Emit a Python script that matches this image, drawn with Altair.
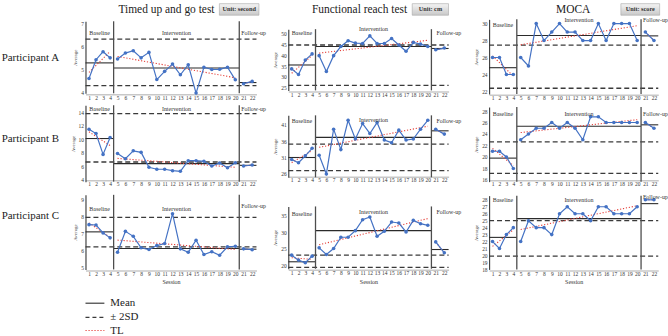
import altair as alt
import pandas as pd

FONT = "Liberation Serif"
BLUE = "#4472c4"
RED = "#e5403a"
INK = "#2b2b2b"

sessions = list(range(1, 23))
phase_names = ["Baseline", "Intervention", "Follow-up"]
phase_edges = [0.5, 4.5, 20.5, 22.5]

tests = ["Timed up and go test", "Functional reach test", "MOCA"]
units = ["Unit: second", "Unit: cm", "Unit: score"]
participants = ["Participant A", "Participant B", "Participant C"]

# Timed up and go test (seconds), sessions 1-22
tug_a = [4.6, 5.42, 5.77, 5.5, 5.45, 5.71, 5.81, 5.5, 5.74, 4.55, 4.91, 5.23, 4.76, 5.2, 3.96, 5.09, 4.99, 5.0, 5.09, 4.54, 4.37, 4.47]
tug_b = [11.47, 10.83, 7.76, 10.25, 7.9, 7.12, 8.29, 8.06, 5.86, 5.57, 5.57, 5.36, 5.27, 6.83, 6.83, 6.74, 6.05, 6.49, 5.8, 6.53, 6.05, 6.2]
tug_c = [7.51, 7.49, 7.03, 6.74, 5.9, 7.12, 6.83, 6.16, 6.06, 6.29, 6.41, 8.15, 6.1, 5.9, 6.6, 5.77, 5.93, 5.73, 6.22, 6.25, 6.1, 6.05]

# Functional reach test (cm)
frt_a = [33.7, 31.1, 37.8, 40.6, 39.8, 32.5, 39.8, 44.0, 46.7, 45.6, 45.4, 48.9, 45.4, 45.4, 47.7, 44.7, 41.8, 45.9, 45.1, 44.0, 42.5, 43.3]
frt_b = [30.4, 29.4, 31.5, 33.8, 31.7, 26.0, 39.6, 33.4, 42.3, 36.6, 41.3, 38.3, 41.6, 36.3, 35.5, 39.3, 36.3, 36.6, 39.6, 42.3, 39.6, 38.1]
frt_c = [23.1, 21.6, 20.8, 22.8, 25.3, 23.3, 25.1, 28.5, 28.5, 30.5, 33.8, 34.6, 28.8, 30.3, 33.1, 32.8, 30.1, 33.6, 32.6, 32.1, 27.1, 23.8]

# MOCA (score)
moca_a = [26, 26, 24, 24, 26, 25, 30, 28, 29, 30, 29, 29, 28, 28, 30, 28, 30, 30, 30, 28, 29, 28]
moca_b = [21, 21, 20, 18, 23, 24, 25, 25, 26, 25, 26, 25, 23, 27, 27, 26, 26, 26, 26, 26, 26, 25]
moca_c = [22, 21, 23, 24, 22, 25, 24, 24, 23, 26, 27, 26, 26, 25, 27, 27, 26, 26, 26, 27, 28, 28]

# phase means: baseline, intervention, follow-up
tug_a_mean = [5.28, 5.06, 4.42]
tug_b_mean = [10.1, 6.4, 6.15]
tug_c_mean = [7.09, 6.12, 6.08]
frt_a_mean = [35.5, 44.0, 43.1]
frt_b_mean = [31.0, 37.1, 39.1]
frt_c_mean = [21.1, 30.5, 24.8]
moca_a_mean = [24.8, 28.6, 28.55]
moca_b_mean = [19.8, 25.35, 25.6]
moca_c_mean = [22.6, 25.3, 27.45]

# baseline mean +/- 2SD: upper, lower
tug_a_sd = [6.32, 4.29]
tug_b_sd = [13.77, 6.64]
tug_c_sd = [7.93, 6.22]
frt_a_sd = [44.7, 26.1]
frt_b_sd = [35.05, 27.0]
frt_c_sd = [23.1, 19.4]
moca_a_sd = [27.46, 22.38]
moca_b_sd = [22.63, 17.15]
moca_c_sd = [25.0, 19.9]

series = [[tug_a, tug_b, tug_c], [frt_a, frt_b, frt_c], [moca_a, moca_b, moca_c]]
means = [[tug_a_mean, tug_b_mean, tug_c_mean], [frt_a_mean, frt_b_mean, frt_c_mean],
         [moca_a_mean, moca_b_mean, moca_c_mean]]
bands = [[tug_a_sd, tug_b_sd, tug_c_sd], [frt_a_sd, frt_b_sd, frt_c_sd], [moca_a_sd, moca_b_sd, moca_c_sd]]
y_ticks = [[[4, 5, 6, 7], [4, 6, 8, 10, 12, 14], [5, 6, 7, 8, 9]],
           [[25, 30, 35, 40, 45, 50], [26, 31, 36, 41], [20, 25, 30, 35]],
           [[22, 24, 26, 28, 30], [16, 18, 20, 22, 24, 26, 28], list(range(18, 29))]]

# ---- layout (pixels) ----
COL_X0 = [86.0, 289.3, 490.4]
COL_W = [183.3, 181.1, 172.0]
COL_GAP = 20
COL_BREAKS = [[86, 114.3, 240.7, 258], [289.3, 316.7, 433.3, 450.6], [490.4, 518.3, 643.3, 660.6]]
ROW_Y0 = [18.0, 104.0, 192.0]
ROW_H = [76.0, 78.0, 78.5]
ROW_GAP = 10
# two tick values with their y positions, then frame top / bottom values
Y_CAL = [[(7, 22.7, 4, 91.7, 7.1, 3.95), (14, 111.7, 4, 180, 15, 3.75), (9, 199.3, 5, 268.3, 9.25, 4.9)],
         [(50, 32.7, 25, 87.3, 52, 23.8), (41, 124.3, 26, 174, 43.8, 25), (35, 216, 20, 266, 37.8, 19)],
         [(30, 22.7, 22, 91, 30.5, 21.7), (28, 110.7, 16, 180, 28.7, 15.7), (28, 200, 18, 270, 28.6, 18)]]
X_LABEL_Y = [[97.7, 184.3, 275], [95, 180.7, 274.3], [98.3, 184.3, 275]]
PHASE_LABEL_Y = [[[32.3, 32.3, 32.3], [109, 109, 108.3], [209, 209, 206.7]],
                 [[32.3, 28.3, 32.3], [120.7, 119.3, 120.7], [214, 212.7, 212.7]],
                 [[24, 19, 19], [113.3, 113.3, 113.3], [200.7, 200.7, 196.7]]]
FOLLOW_DX = [2, 5, 2]
TITLE_CX = [167.5, 361, 575]
TITLE_Y = 9.5
BADGE_X = [(220.7, 260.5), (414, 450.5), (623, 662)]
BADGE_Y = (2.7, 14.3)
ROW_LABEL_Y = [57.3, 139.3, 216.7]
LEGEND_Y = [304, 318.3, 331.5]

one = pd.DataFrame({"k": [0]})


def phase_of(s):
    if s <= 4:
        return phase_names[0]
    if s <= 20:
        return phase_names[1]
    return phase_names[2]


def panel(c, r):
    x0, y0 = COL_X0[c], ROW_Y0[r]
    v_hi, p_hi, v_lo, p_lo, top_v, bot_v = Y_CAL[c][r]

    def ypx(v):
        return p_lo + (v - v_lo) * (p_hi - p_lo) / (v_hi - v_lo) - y0

    xs = alt.Scale(domain=phase_edges, range=[b - x0 for b in COL_BREAKS[c]], nice=False, zero=False)
    ys = alt.Scale(domain=[bot_v, top_v], range=[ypx(bot_v), ypx(top_v)], nice=False, zero=False)
    x_offset = X_LABEL_Y[c][r] - 4 - (y0 + ROW_H[r])
    xa = alt.Axis(values=sessions, title="Session" if r == 2 else None, ticks=False, labelPadding=1,
                  labelFontSize=5.5, labelColor="#333", labelFlush=False, labelOverlap=False,
                  domainColor="#c8c8c8", domainWidth=1.5, offset=x_offset, titleFontSize=6,
                  titleFontWeight="normal", titleColor="#333", titlePadding=2)
    ya = alt.Axis(values=y_ticks[c][r], title="Average", ticks=False, labelPadding=2, labelFontSize=5.5,
                  labelColor="#333", labelOverlap=False, domainColor="#444", domainWidth=1.2,
                  titleFontSize=5, titleFontWeight="normal", titleColor="#333", titlePadding=3)

    obs = pd.DataFrame({"session": sessions, "value": series[c][r],
                        "phase": [phase_of(s) for s in sessions]})
    X = alt.X("session:Q", scale=xs, axis=xa)
    Y = alt.Y("value:Q", scale=ys, axis=ya)

    band_df = pd.DataFrame({"start": [phase_edges[0]] * 2, "end": [phase_edges[-1]] * 2,
                            "level": bands[c][r]})
    band = alt.Chart(band_df).mark_rule(color="#3a3a3a", strokeDash=[5, 3], strokeWidth=1.3).encode(
        x=alt.X("start:Q", scale=xs, axis=xa), x2="end:Q", y=alt.Y("level:Q", scale=ys, axis=ya))

    mean_df = pd.DataFrame({"start": phase_edges[:-1], "end": phase_edges[1:], "level": means[c][r]})
    mean = alt.Chart(mean_df).mark_rule(color=INK, strokeWidth=1.1).encode(
        x=alt.X("start:Q", scale=xs, axis=xa), x2="end:Q", y=alt.Y("level:Q", scale=ys, axis=ya))

    cut_df = pd.DataFrame({"edge": phase_edges[1:-1], "lo": [bot_v] * 2, "hi": [top_v] * 2})
    cuts = alt.Chart(cut_df).mark_rule(color="#4d4d4d", strokeWidth=1.3).encode(
        x=alt.X("edge:Q", scale=xs, axis=xa), y=alt.Y("lo:Q", scale=ys, axis=ya), y2="hi:Q")

    trend = alt.Chart(obs).transform_regression("session", "value", groupby=["phase"]).mark_line(
        color=RED, strokeDash=[1.2, 1.8], strokeWidth=1.1).encode(X, Y, detail="phase:N")
    line = alt.Chart(obs).mark_line(color=BLUE, strokeWidth=1.2).encode(X, Y, detail="phase:N")
    pts = alt.Chart(obs).mark_circle(color=BLUE, size=13, opacity=1).encode(X, Y)

    layers = [band, mean, cuts, trend, line, pts]

    for i, name in enumerate(phase_names):
        kw = dict(text=name, fontSize=6, font=FONT, color="#333", baseline="middle")
        if i < 2:
            pos = (phase_edges[i] + phase_edges[i + 1]) / 2
            kw["align"] = "center"
        else:
            pos = phase_edges[2]
            kw["align"] = "left"
            kw["dx"] = FOLLOW_DX[c]
        layers.append(alt.Chart(one).mark_text(**kw).encode(
            x=alt.XDatum(pos, type="quantitative", scale=xs, axis=xa),
            y=alt.value(PHASE_LABEL_Y[c][r][i] - y0)))

    if r == 0:
        layers.append(alt.Chart(one).mark_text(text=tests[c], fontSize=11.5, font=FONT, color="#222",
                                               align="center", baseline="middle").encode(
            x=alt.value(TITLE_CX[c] - x0), y=alt.value(TITLE_Y - y0)))
        bx0, bx1 = BADGE_X[c]
        grad = alt.LinearGradient(gradient="linear", x1=0, x2=0, y1=0, y2=1,
                                  stops=[alt.GradientStop(color="#f4f4f4", offset=0),
                                         alt.GradientStop(color="#c8c8c8", offset=1)])
        layers.append(alt.Chart(one).mark_rect(fill=grad, stroke="#a8a8a8", strokeWidth=0.6).encode(
            x=alt.value(bx0 - x0), x2=alt.value(bx1 - x0),
            y=alt.value(BADGE_Y[0] - y0), y2=alt.value(BADGE_Y[1] - y0)))
        layers.append(alt.Chart(one).mark_text(text=units[c], fontSize=6.3, font=FONT, fontWeight="bold",
                                               color="#333", align="center", baseline="middle").encode(
            x=alt.value((bx0 + bx1) / 2 - x0), y=alt.value((BADGE_Y[0] + BADGE_Y[1]) / 2 - y0)))

    if c == 0:
        layers.append(alt.Chart(one).mark_text(text=participants[r], fontSize=11, font=FONT, color="#222",
                                               align="left", baseline="middle").encode(
            x=alt.value(1.7 - x0), y=alt.value(ROW_LABEL_Y[r] - y0)))

    if c == 0 and r == 0:
        # transparent anchor pinning the page origin
        layers.append(alt.Chart(one).mark_rect(opacity=0).encode(
            x=alt.value(-x0), x2=alt.value(-x0 + 4), y=alt.value(-y0), y2=alt.value(-y0 + 4)))

    if c == 0 and r == 2:
        styles = [dict(color=INK, strokeWidth=1.1),
                  dict(color="#3a3a3a", strokeWidth=1.3, strokeDash=[4, 3]),
                  dict(color=RED, strokeWidth=1.1, strokeDash=[1.2, 1.8])]
        names = ["Mean", "± 2SD", "TL"]
        for ly, st, nm in zip(LEGEND_Y, styles, names):
            layers.append(alt.Chart(one).mark_rule(**st).encode(
                x=alt.value(0), x2=alt.value(19), y=alt.value(ly - y0)))
            layers.append(alt.Chart(one).mark_text(text=nm, fontSize=11, font=FONT, color="#222",
                                                   align="left", baseline="middle").encode(
                x=alt.value(25), y=alt.value(ly - y0)))

    return alt.layer(*layers).properties(width=COL_W[c], height=ROW_H[r])


cells = [panel(c, r) for r in range(3) for c in range(3)]

chart = alt.concat(*cells, columns=3, spacing={"row": ROW_GAP, "column": COL_GAP},
                   bounds="flush").properties(padding=0).configure_view(stroke=None).configure_axis(
    labelFont=FONT, titleFont=FONT, grid=False)

chart.save("out.html", embed_options={"renderer": "svg", "actions": False})
